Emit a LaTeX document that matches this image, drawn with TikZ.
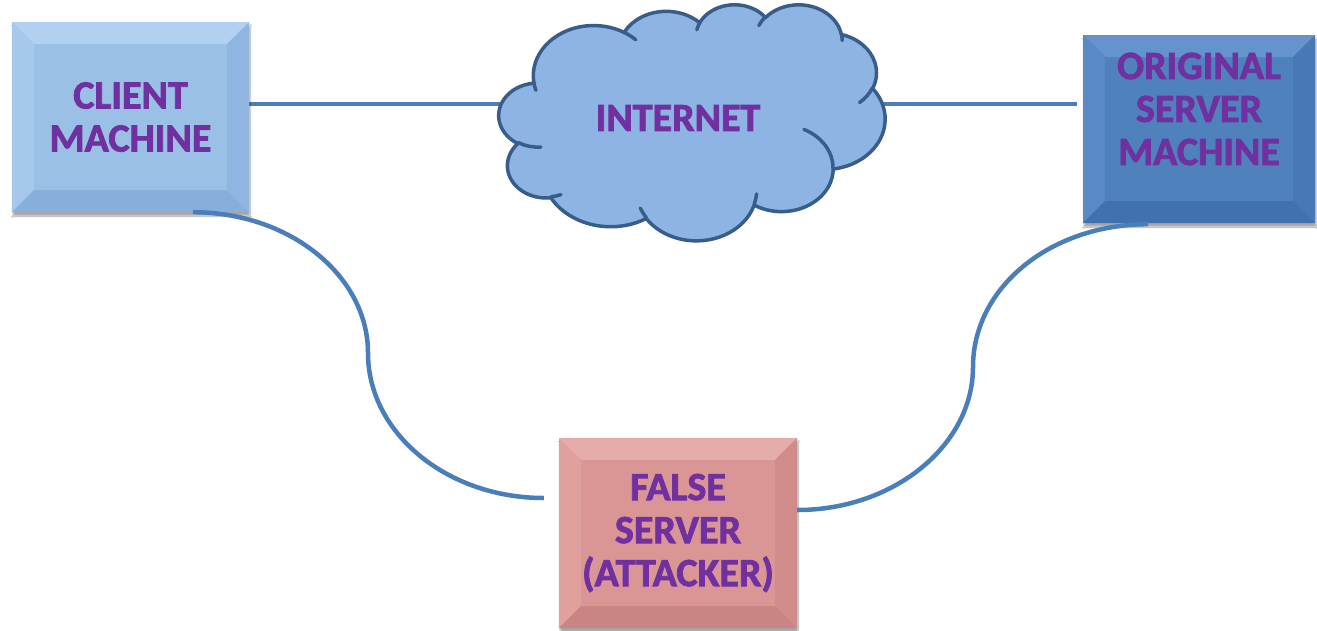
\documentclass[tikz,border=0pt]{standalone}
\usepackage{fontspec}
\setmainfont{Carlito}
\newfontfamily\labelfont[FakeBold=2]{Carlito}
\usetikzlibrary{shadows.blur,backgrounds}

\definecolor{linkblue}{HTML}{4A7EBB}
\definecolor{cloudfill}{HTML}{8EB4E3}
\definecolor{clouddraw}{HTML}{385D8A}
\definecolor{labelpurple}{HTML}{7030A0}
% client machine tones
\definecolor{cliFace}{HTML}{9BC0E6}
\definecolor{cliTop}{HTML}{B2D0F0}
\definecolor{cliLeft}{HTML}{A6C8EC}
\definecolor{cliRight}{HTML}{8FB6E0}
\definecolor{cliBottom}{HTML}{88AFDB}
% original server tones
\definecolor{srvFace}{HTML}{4F81BD}
\definecolor{srvTop}{HTML}{6593CE}
\definecolor{srvLeft}{HTML}{5989C6}
\definecolor{srvRight}{HTML}{4879B4}
\definecolor{srvBottom}{HTML}{4272AD}
% false server tones
\definecolor{fakeFace}{HTML}{D99694}
\definecolor{fakeTop}{HTML}{E6ACAA}
\definecolor{fakeLeft}{HTML}{DFA09E}
\definecolor{fakeRight}{HTML}{D08C8A}
\definecolor{fakeBottom}{HTML}{C98583}

% elliptical arc given by a visual start angle and sweep (degrees);
% defines the arc style oo<tag> with the matching parametric angles
\newcommand\ooprep[5]{%
  \pgfmathsetmacro\ooS{atan2(#2*sin(#4),#3*cos(#4))}%
  \pgfmathsetmacro\ooE{atan2(#2*sin(#4+#5),#3*cos(#4+#5))}%
  \pgfmathsetmacro\ooD{\ooE-\ooS}%
  \pgfmathsetmacro\ooD{\ooD-360*round((\ooD-#5)/360)}%
  \edef\ootmp{\noexpand\tikzset{oo#1/.style={start angle=\ooS, delta angle=\ooD, x radius=#2, y radius=#3}}}%
  \ootmp
}
% outline puffs
\ooprep{A}{67.53}{91.90}{-190.4875}{123.7805}
\ooprep{B}{53.33}{72.67}{-144.1024}{89.9452}
\ooprep{C}{43.65}{59.45}{-145.8079}{99.7230}
\ooprep{D}{48.57}{65.95}{-130.9861}{117.2417}
\ooprep{E}{53.33}{72.73}{-78.7089}{109.0269}
\ooprep{F}{67.75}{92.20}{-46.2673}{130.2690}
\ooprep{G}{57.85}{78.67}{0.6250}{114.0333}
\ooprep{H}{67.52}{92.15}{22.4516}{115.1726}
\ooprep{I}{77.20}{105.43}{66.2426}{75.7110}
\ooprep{J}{43.60}{59.18}{-274.9421}{146.7356}
\ooprep{K}{43.45}{59.45}{-246.8285}{152.5189}
% inner creases
\ooprep{a}{43.45}{59.45}{86.7420}{26.4295}
\ooprep{b}{43.60}{59.18}{73.6105}{11.4475}
\ooprep{c}{67.52}{92.15}{137.6242}{14.0811}
\ooprep{d}{67.52}{92.15}{6.4533}{15.9984}
\ooprep{e}{57.85}{78.67}{-70.2924}{70.9174}
\ooprep{f}{53.33}{72.73}{30.3180}{27.7515}
\ooprep{g}{48.57}{65.95}{-13.7443}{14.8589}
\ooprep{h}{48.57}{65.95}{-149.1815}{18.1954}
\ooprep{i}{43.65}{59.45}{-163.4943}{17.6864}
\ooprep{j}{67.53}{91.90}{-66.7070}{12.3194}
\ooprep{k}{67.53}{91.90}{157.6544}{11.8582}

\tikzset{
  % bevelled box: face colour plus four edge tones (top, left, right, bottom)
  bevelbox/.style n args={5}{
    rectangle, fill=#1, minimum width=237pt, minimum height=190pt, inner sep=0pt,
    blur shadow={shadow xshift=1pt, shadow yshift=-4pt, shadow blur steps=6, shadow opacity=35},
    path picture={
      \fill[#2] (path picture bounding box.north west) -- (path picture bounding box.north east)
        -- ([xshift=-22pt,yshift=-22pt]path picture bounding box.north east)
        -- ([xshift=22pt,yshift=-22pt]path picture bounding box.north west) -- cycle;
      \fill[#3] (path picture bounding box.north west) -- ([xshift=22pt,yshift=-22pt]path picture bounding box.north west)
        -- ([xshift=22pt,yshift=22pt]path picture bounding box.south west)
        -- (path picture bounding box.south west) -- cycle;
      \fill[#4] (path picture bounding box.north east) -- ([xshift=-22pt,yshift=-22pt]path picture bounding box.north east)
        -- ([xshift=-22pt,yshift=22pt]path picture bounding box.south east)
        -- (path picture bounding box.south east) -- cycle;
      \fill[#5] (path picture bounding box.south west) -- ([xshift=22pt,yshift=22pt]path picture bounding box.south west)
        -- ([xshift=-22pt,yshift=22pt]path picture bounding box.south east)
        -- (path picture bounding box.south east) -- cycle;
    }
  },
  boxlabel/.style={font=\labelfont\fontsize{40}{43}\selectfont\bfseries, text=labelpurple, align=center},
  link/.style={draw=linkblue, line width=4.5pt},
}

\begin{document}
\begin{tikzpicture}[x=1pt,y=-1pt]
  \useasboundingbox (0,0) rectangle (1317,630);

  % machines
  \node[bevelbox={cliFace}{cliTop}{cliLeft}{cliRight}{cliBottom}] (client) at (130.5,117) {};
  \node[boxlabel] at (client.center) {CLIENT\\MACHINE};

  \node[bevelbox={srvFace}{srvTop}{srvLeft}{srvRight}{srvBottom}, minimum width=232pt, minimum height=188pt] (server) at (1199,129) {};
  \node[boxlabel] at ([yshift=20pt]server.center) {ORIGINAL\\SERVER\\MACHINE};

  \node[bevelbox={fakeFace}{fakeTop}{fakeLeft}{fakeRight}{fakeBottom}, minimum width=238pt] (fake) at (678,533) {};
  \node[boxlabel] at (fake.center) {FALSE\\SERVER\\(ATTACKER)};

  % the internet cloud, drawn in a 432 x 432 unit frame
  \begin{scope}[shift={(499,4)}, xscale=386/432, yscale=236/432]
    \draw[fill=cloudfill, draw=clouddraw, line width=3.5pt, line join=round]
      (39,143.7) arc[ooA] arc[ooB] arc[ooC] arc[ooD] arc[ooE] arc[ooF]
      arc[ooG] arc[ooH] arc[ooI] arc[ooJ] arc[ooK] -- cycle;
    \draw[draw=clouddraw, line width=3.5pt, line cap=round]
      (46.93,261.77) arc[ooa]  (69.28,348.99) arc[oob]  (164.78,390.90) arc[ooc]
      (288.27,347.51) arc[ood] (341.29,229.54) arc[ooe] (417.98,153.54) arc[oof]
      (383.24,54.26) arc[oog]  (290.78,39.52) arc[ooh]  (221.41,47.20) arc[ooi]
      (140.00,51.92) arc[ooj]  (41.27,157.89) arc[ook];
  \end{scope}
  \node[boxlabel] (net) at (678,118) {INTERNET};

  % connectors, kept underneath the shapes
  \begin{scope}[on background layer]
    \fill[white] (0,0) rectangle (1317,630);
    \coordinate (cE) at ([yshift=13pt]client.east);
    \coordinate (sW) at ([xshift=-6pt,yshift=25pt]server.west);
    \draw[link] (cE) -- (cE -| net.center);
    \draw[link] (sW -| net.center) -- (sW);
  \end{scope}

  \coordinate (cS) at ([xshift=62.5pt]client.south);
  \coordinate (fW) at ([xshift=-15pt,yshift=35pt]fake.west);
  \coordinate (fE) at ([yshift=23pt]fake.east);
  \coordinate (sS) at ([xshift=-51pt,yshift=-1pt]server.south);
  \draw[link] (cS) .. controls +(97,0) and +(0,-77) .. (368,353)
                   .. controls +(0,80) and +(-97,0) .. (fW);
  \draw[link] (fE) .. controls +(97,0) and +(0,78) .. (973,367)
                   .. controls +(0,-80) and +(-97,0) .. (sS);
\end{tikzpicture}
\end{document}
